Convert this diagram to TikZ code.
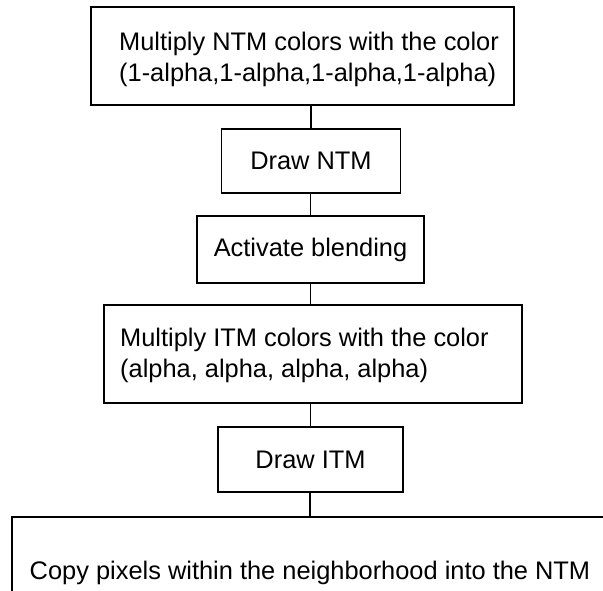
\documentclass[tikz,border=0pt]{standalone}
\usepackage{fontspec}
\setmainfont{Liberation Sans}
\begin{document}
\begin{tikzpicture}[x=1pt,y=-1pt,
  stepbox/.style={draw, line width=1.4pt, inner sep=0pt,
    font=\fontsize{25.4}{30.5}\selectfont},
  link/.style={line width=1.4pt}]
\useasboundingbox (0,0) rectangle (603,591);
\clip (0,0) rectangle (603,591);
\fill[white] (0,0) rectangle (603,591);

% processing steps, top to bottom
\node[stepbox, minimum width=423pt, minimum height=98pt] (ntmcolor) at (302.5,56) {};
\node[font=\fontsize{25.4}{30.5}\selectfont, align=left, anchor=west, inner sep=0pt]
  (ntmtext) at (119,59.5) {Multiply NTM colors with the color\\(1-alpha,1-alpha,1-alpha,1-alpha)};
\node[stepbox, minimum width=179pt, minimum height=64pt] (drawntm) at (311,161) {Draw NTM};
\node[stepbox, minimum width=227pt, minimum height=67pt] (blend) at (310.5,249.5) {Activate blending};
\node[stepbox, minimum width=418pt, minimum height=98pt] (itmcolor) at (313,354) {};
\node[font=\fontsize{25.4}{30.5}\selectfont, align=left, anchor=west, inner sep=0pt]
  (itmtext) at (120,355.5) {Multiply ITM colors with the color\\(alpha, alpha, alpha, alpha)};
\node[stepbox, minimum width=185pt, minimum height=65pt] (drawitm) at (310.5,459.5) {Draw ITM};
\node[stepbox, minimum width=596pt, minimum height=112pt] (copy) at (310,573)
  {Copy pixels within the neighborhood into the NTM};

% vertical connectors between consecutive steps
\draw[link] (drawntm.north) -- (drawntm.north |- ntmcolor.south);
\draw[link] (blend.north) -- (blend.north |- drawntm.south);
\draw[link] (blend.south) -- (blend.south |- itmcolor.north);
\draw[link] (drawitm.north) -- (drawitm.north |- itmcolor.south);
\draw[link] (copy.north) -- (copy.north |- drawitm.south);
\end{tikzpicture}
\end{document}
